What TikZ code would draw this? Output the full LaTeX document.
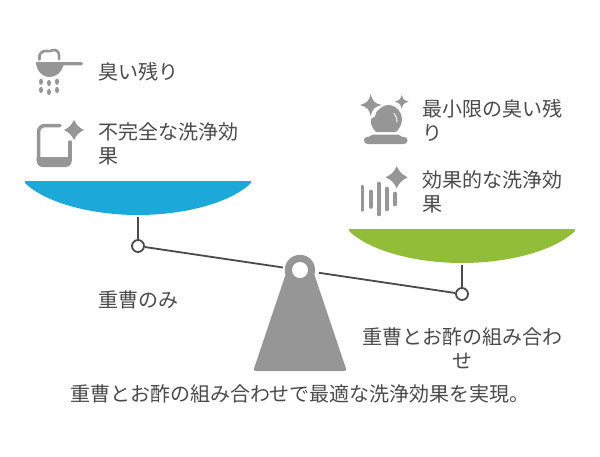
\documentclass[tikz,border=0pt]{standalone}
\usepackage{fontspec}
\setmainfont{Noto Sans CJK JP}
\definecolor{txt}{HTML}{4A4A4A}
\definecolor{icn}{HTML}{969696}
\definecolor{bluebowl}{HTML}{1CA9DA}
\definecolor{greenbowl}{HTML}{92BD39}
\tikzset{
  lab/.style={font=\fontsize{20}{24}\selectfont, text=txt, inner sep=0pt, align=left, anchor=west},
  joint/.style={circle, draw=txt, fill=white, line width=1.8pt, minimum size=12pt, inner sep=0pt},
  beam/.style={draw=txt, line width=1.8pt},
  iconline/.style={draw=icn, line cap=round, fill=none},
}
% \sparkle{x}{y}{radius}{near-axis factor}{off-axis factor}
\newcommand{\sparkle}[5]{%
  \fill[icn] (#1-#3,#2) .. controls (#1-#4*#3,#2-#5*#3) and (#1-#5*#3,#2-#4*#3) .. (#1,#2-#3)
   .. controls (#1+#5*#3,#2-#4*#3) and (#1+#4*#3,#2-#5*#3) .. (#1+#3,#2)
   .. controls (#1+#4*#3,#2+#5*#3) and (#1+#5*#3,#2+#4*#3) .. (#1,#2+#3)
   .. controls (#1-#5*#3,#2+#4*#3) and (#1-#4*#3,#2+#5*#3) .. (#1-#3,#2) -- cycle;}
\begin{document}
\begin{tikzpicture}[x=1pt,y=-1pt]
\useasboundingbox (0,0) rectangle (600,456);
% bowls
\fill[bluebowl] (25.5,181) -- (250.5,181) .. controls (252,181) and (251.5,182.5) .. (250,184)
  .. controls (228,204) and (182,215) .. (138,215) .. controls (94,215) and (48,204) .. (26,184)
  .. controls (24.5,182.5) and (24,181) .. (25.5,181) -- cycle;
\fill[greenbowl] (349.5,229) -- (574.5,229) .. controls (576,229) and (575.5,230.5) .. (574,232)
  .. controls (552,252) and (506,263) .. (462,263) .. controls (418,263) and (372,252) .. (350,232)
  .. controls (348.5,230.5) and (348,229) .. (349.5,229) -- cycle;
% stand
\fill[icn] (285.5,274.7) arc[start angle=162,end angle=378,radius=15.2]
  -- (345.8,368) .. controls (346.5,370) and (346,371) .. (344,371) -- (256,371)
  .. controls (254,371) and (253.5,370) .. (254.2,368) -- cycle;
\node[circle, fill=white, minimum size=16pt, inner sep=0pt] (pivot) at (300,270) {};
% beam
\coordinate (bl) at (283,267.5);
\coordinate (br) at (319,272.8);
\coordinate (hl) at (138,217);
\coordinate (hr) at (462,265);
\node[joint] (pl) at (138,246) {};
\node[joint] (pr) at (462,294) {};
\draw[beam] (pl) -- (bl);
\draw[beam] (br) -- (pr);
\draw[beam] (hl) -- (pl);
\draw[beam] (hr) -- (pr);
% labels
\node[lab] (t1) at (98,71.6) {臭い残り};
\node[lab] (t2) at (98,144) {不完全な洗浄効\\果};
\node[lab] (t3) at (422,120) {最小限の臭い残\\り};
\node[lab] (t4) at (422,192) {効果的な洗浄効\\果};
\node[lab] (t5) at (98,300) {重曹のみ};
\node[lab, align=center, anchor=center] (t6) at (462,348) {重曹とお酢の組み合わ\\せ};
\node[lab, align=center, anchor=center] (t7) at (300,394) {重曹とお酢の組み合わせで最適な洗浄効果を実現。};
% icon 1: ladle
\fill[icn] (36,62) -- (81.5,62) arc[start angle=-90,end angle=90,radius=1.7] -- (63.5,65.4)
  .. controls (62,72) and (56,77) .. (49.5,77) .. controls (42,77) and (36,70) .. (36,62) -- cycle;
\draw[iconline, line width=2.6pt] (39.5,59.5) .. controls (38,53) and (43,50.5) .. (47,51)
  .. controls (51,52) and (53,49) .. (55,50) .. controls (59,51) and (59.5,55) .. (59,59);
\foreach \px/\py in {41/81.7,49/83,57/81.7,41/90,49/92,57/90}
  \fill[icn] (\px,\py) ellipse[x radius=2,y radius=3.2];
% icon 2: phone
\draw[iconline, line width=3.5pt] (60,125.5) -- (45,125.5) arc[start angle=-90,end angle=-180,radius=6.5]
  -- (38.5,160) ;
\draw[iconline, line width=3.5pt] (70,142) -- (70,160);
\fill[icn] (36.7,157) -- (71.7,157) -- (71.7,161) arc[start angle=0,end angle=90,radius=6] -- (42.7,167)
  arc[start angle=90,end angle=180,radius=6] -- cycle;
\sparkle{74}{130}{10}{0.45}{0.28}
% icon 3: crystal ball
\sparkle{370.7}{105}{11}{0.3}{0.2}
\sparkle{401.7}{101.7}{7}{0.3}{0.2}
\fill[icn] (376,132) .. controls (371,127) and (370,122) .. (371.5,118.5)
  .. controls (374,118.5) and (376,116) .. (376,112.5) .. controls (380,108) and (384,105) .. (388,105)
  .. controls (396,105) and (402,112) .. (402,119) .. controls (402,125) and (399,129) .. (396,132) -- cycle;
\draw[white, line width=0.9pt, line cap=round] (394,113.5) .. controls (396.5,116) and (397.3,119) .. (397,122);
\fill[icn] (373,134.5) -- (398,134.5) .. controls (400,134.5) and (400,136.5) .. (402,136.8)
  -- (404,136.8) arc[start angle=-90,end angle=90,radius=3.6] -- (367.5,144) arc[start angle=90,end angle=270,radius=3.6]
  -- (369,136.8) .. controls (371,136.5) and (371,134.5) .. (373,134.5) -- cycle;
% icon 4: sound bars
\foreach \bx/\ba/\bb in {362.3/186.5/210,370.7/191.5/207,379/183.5/214.5,387/188.5/209.5,395/193.5/204.5}
  \draw[iconline, line width=3.6pt] (\bx,\ba) -- (\bx,\bb);
\sparkle{396.7}{177.3}{11}{0.45}{0.28}
\end{tikzpicture}
\end{document}
